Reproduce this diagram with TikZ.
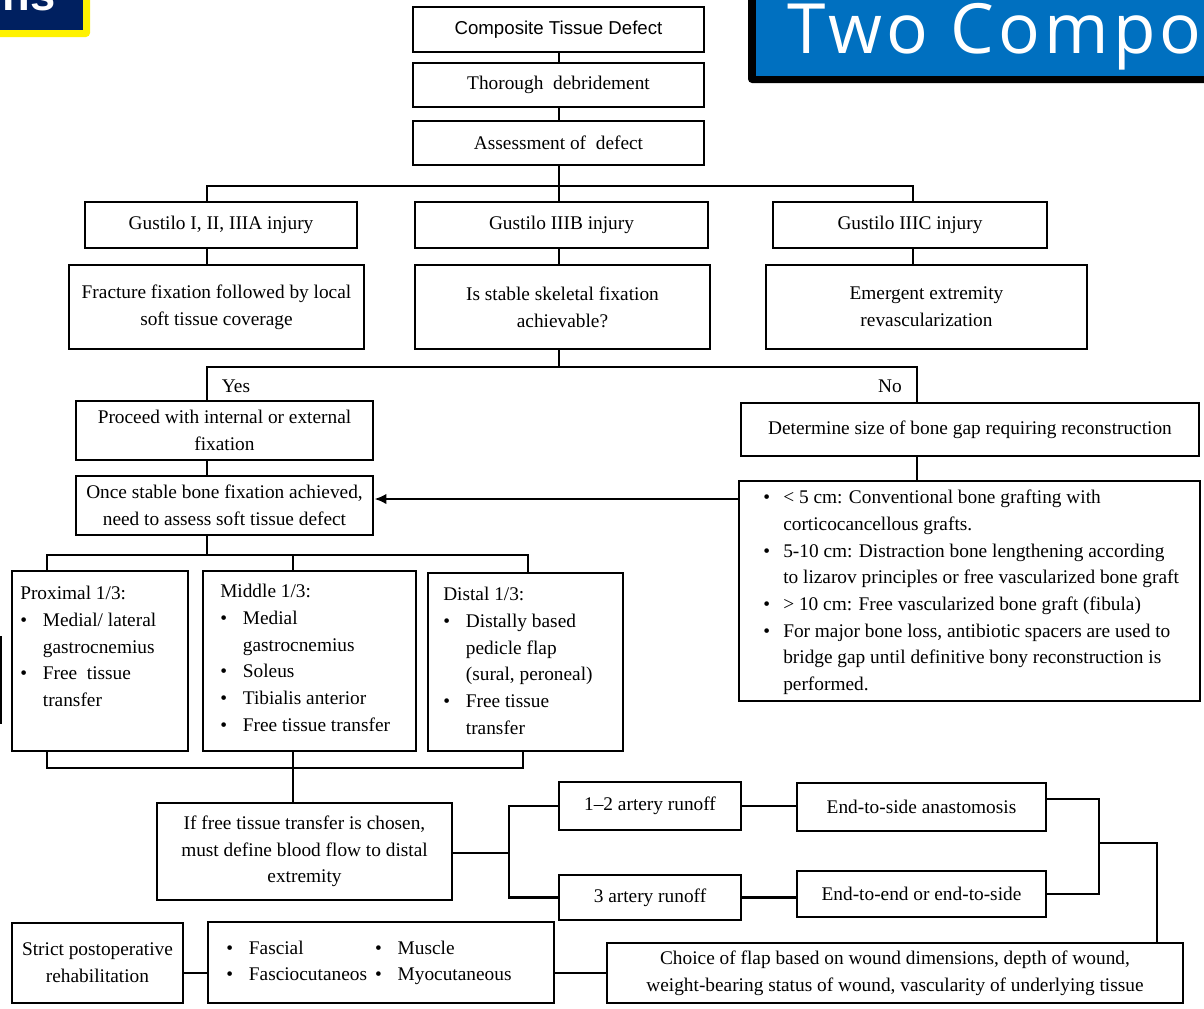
\documentclass[tikz,border=0pt]{standalone}
\usepackage{fontspec}
\setmainfont{Liberation Serif}
\newfontfamily\titlefont[LetterSpace=6]{Open Sans}
\newfontfamily\hsans{Liberation Sans}
\usetikzlibrary{arrows.meta}
\definecolor{navy}{RGB}{0,32,96}
\definecolor{slideblue}{RGB}{0,112,192}
\newcommand\fs{\fontsize{14.5}{20}\selectfont}
\newcommand\bl{\makebox[17pt][l]{\textbullet}}
\newcommand\ii{\hspace*{17pt}}
\newcommand\bx[7][]{%
  \pgfmathsetmacro\bxcx{(#3+#5)/2}%
  \pgfmathsetmacro\bxcy{(#4+#6)/2}%
  \pgfmathsetmacro\bxw{(#5-#3)*0.75}%
  \pgfmathsetmacro\bxh{(#6-#4)*0.75}%
  \node[box, minimum width=\bxw pt, minimum height=\bxh pt, #1] (#2) at (\bxcx,\bxcy) {#7};}
\begin{document}
\begin{tikzpicture}[x=0.75pt,y=-0.75pt,
  box/.style={draw, line width=2.2pt, inner sep=0pt, align=center, font=\fs},
  conn/.style={line width=2.2pt},
  txt/.style={inner sep=0pt, align=left, anchor=north west, font=\fs}]
\useasboundingbox (0,0) rectangle (1204,1008);
\clip (0,0) rectangle (1204,1008);
\fill[white] (0,0) rectangle (1204,1008);

% banners
\fill[yellow, rounded corners=3pt] (-20,-20) rectangle (90,37);
\fill[navy] (-20,-20) rectangle (83,30);
\node[anchor=base east, inner sep=0pt, text=white, font=\hsans\bfseries\fontsize{34}{36}\selectfont] (nsb) at (56,10) {ns};
\fill[black, rounded corners=3pt] (748,-20) rectangle (1224,83);
\fill[slideblue] (756,-20) rectangle (1224,76);
\node[anchor=base west, inner sep=0pt, text=white, font=\titlefont\fontsize{52}{56}\selectfont] (twob) at (787,53) {Two Compo};

% left edge partial box
\draw[conn] (-10,637) -- (1,637) -- (1,723) -- (-10,723);

% boxes
\bx[font=\hsans\fontsize{14}{18}\selectfont]{ctd}{413}{7}{704}{52}{Composite Tissue Defect}
\bx{deb}{413}{63}{704}{107}{Thorough~ debridement}
\bx{ass}{413}{121}{704}{165}{Assessment of~ defect}
\bx{g1}{85}{202}{357}{248}{Gustilo I, II, IIIA injury}
\bx{g2}{415}{202}{708}{248}{Gustilo IIIB injury}
\bx{g3}{773}{202}{1047}{248}{Gustilo IIIC injury}
\bx{r1}{69}{265}{364}{349}{Fracture fixation followed by local\\soft tissue coverage}
\bx{r2}{415}{265}{710}{349}{Is stable skeletal fixation\\achievable?}
\bx{r3}{766}{265}{1087}{349}{Emergent extremity\\revascularization}
\bx{pro}{76}{401}{373}{460}{Proceed with internal or external\\fixation}
\bx{once}{76}{476}{373}{535}{Once stable bone fixation achieved,\\need to assess soft tissue defect}
\bx{det}{741}{403}{1199}{456}{Determine size of bone gap requiring reconstruction}
\bx{bul}{739}{481}{1200}{701}{}
\bx{prox}{12}{571}{188}{751}{}
\bx{mid}{203}{571}{416}{751}{}
\bx{dist}{428}{573}{623}{751}{}
\bx{iff}{157}{803}{452}{900}{If free tissue transfer is chosen,\\must define blood flow to distal\\extremity}
\bx{a12}{559}{782}{741}{830}{1--2 artery runoff}
\bx{a3}{559}{875}{741}{920}{3 artery runoff}
\bx{ets}{797}{783}{1046}{831}{End-to-side anastomosis}
\bx{ete}{797}{871}{1046}{917}{End-to-end or end-to-side}
\bx{choice}{607}{943}{1183}{1003}{Choice of flap based on wound dimensions, depth of wound,\\weight-bearing status of wound, vascularity of underlying tissue}
\bx{fas}{208}{922}{554}{1003}{}
\bx{strict}{12}{923}{183}{1003}{Strict postoperative\\rehabilitation}

% texts in left-aligned boxes
\node[txt] (bultext) at (763,490) {\makebox[15pt][l]{\textbullet}< 5 cm: Conventional bone grafting with\\
\hspace*{15pt}corticocancellous grafts.\\
\makebox[15pt][l]{\textbullet}5-10 cm: Distraction bone lengthening according\\
\hspace*{15pt}to lizarov principles or free vascularized bone graft\\
\makebox[15pt][l]{\textbullet}> 10 cm: Free vascularized bone graft (fibula)\\
\makebox[15pt][l]{\textbullet}For major bone loss, antibiotic spacers are used to\\
\hspace*{15pt}bridge gap until definitive bony reconstruction is\\
\hspace*{15pt}performed.};
\node[txt] (proxtext) at (20,586) {Proximal 1/3:\\ \bl Medial/ lateral\\ \ii gastrocnemius\\ \bl Free~ tissue\\ \ii transfer};
\node[txt] (midtext) at (220,584) {Middle 1/3:\\ \bl Medial\\ \ii gastrocnemius\\ \bl Soleus\\ \bl Tibialis anterior\\ \bl Free tissue transfer};
\node[txt] (disttext) at (443,587) {Distal 1/3:\\ \bl Distally based\\ \ii pedicle flap\\ \ii (sural, peroneal)\\ \bl Free tissue\\ \ii transfer};
\node[txt, anchor=west] (fastext) at (226,962) {\begin{tabular}{@{}l@{\hspace{6pt}}l@{}}\bl Fascial & \bl Muscle\\ \bl Fasciocutaneos & \bl Myocutaneous\end{tabular}};

% labels
\node[font=\fs, inner sep=1pt] (yes) at (236,386) {Yes};
\node[font=\fs, inner sep=1pt] (no) at (890,386) {No};

% connectors
\coordinate (cx) at (559,0);
\coordinate (bus1L) at (207,186);
\coordinate (bus1R) at (913,186);
\draw[conn] (cx |- ctd.south) -- (cx |- deb.north);
\draw[conn] (cx |- deb.south) -- (cx |- ass.north);
\draw[conn] (cx |- ass.south) -- (cx |- g2.north);
\draw[conn] (bus1L |- g1.north) -- (bus1L) -- (bus1R) -- (bus1R |- g3.north);
\draw[conn] (bus1L |- g1.south) -- (bus1L |- r1.north);
\draw[conn] (cx |- g2.south) -- (cx |- r2.north);
\draw[conn] (bus1R |- g3.south) -- (bus1R |- r3.north);
\coordinate (bus2L) at (207,367);
\coordinate (bus2R) at (917,367);
\draw[conn] (cx |- r2.south) -- (cx |- bus2L);
\draw[conn] (bus2L |- pro.north) -- (bus2L) -- (bus2R) -- (bus2R |- det.north);
\draw[conn] (bus2L |- pro.south) -- (bus2L |- once.north);
\draw[conn] (bus2R |- det.south) -- (bus2R |- bul.north);
\coordinate (ay) at (0,499);
\draw[conn, -{Latex[length=9pt,width=8pt]}] (bul.west |- ay) -- (once.east |- ay);
\coordinate (bus3L) at (47,555);
\coordinate (bus3R) at (528,555);
\coordinate (mx) at (293,0);
\draw[conn] (bus2L |- once.south) -- (bus2L |- bus3L);
\draw[conn] (bus3L |- prox.north) -- (bus3L) -- (bus3R) -- (bus3R |- dist.north);
\draw[conn] (mx |- bus3L) -- (mx |- mid.north);
\coordinate (bus4L) at (47,768);
\coordinate (bus4R) at (523,768);
\draw[conn] (bus4L |- prox.south) -- (bus4L) -- (bus4R) -- (bus4R |- dist.south);
\draw[conn] (mx |- mid.south) -- (mx |- iff.north);
\coordinate (sp) at (509,853);
\draw[conn] (iff.east |- sp) -- (sp);
\draw[conn] (a12.west) -| (sp) |- (a3.west);
\draw[conn] (a12.east) -- (a12.east -| ets.west);
\draw[conn] (a3.east) -- (a3.east -| ete.west);
\coordinate (bt) at (1099,799);
\coordinate (bb) at (1099,894);
\coordinate (brk) at (1099,843);
\coordinate (cn) at (1157,843);
\draw[conn] (bt -| ets.east) -- (bt) -- (bb) -- (bb -| ete.east);
\draw[conn] (brk) -- (cn) -- (cn |- choice.north);
\coordinate (by) at (0,973);
\draw[conn] (strict.east |- by) -- (fas.west |- by);
\draw[conn] (fas.east |- by) -- (choice.west |- by);
\end{tikzpicture}
\end{document}
